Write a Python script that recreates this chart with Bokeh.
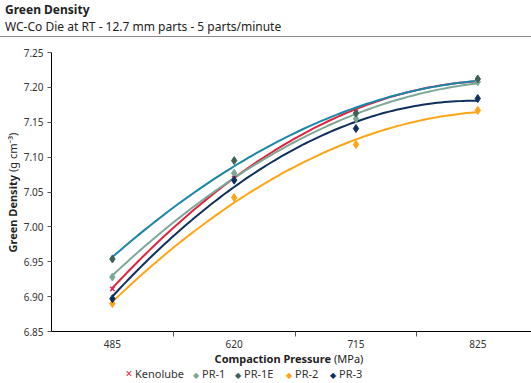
import numpy as np
from bokeh.plotting import figure
from bokeh.layouts import column, row
from bokeh.models import (Range1d, FixedTicker, Div, ColumnDataSource, NumeralTickFormatter)
from bokeh.embed import file_html
from bokeh.resources import INLINE

# ---- data ----
pressures = ["485", "620", "715", "825"]
kenolube = [6.911, 7.074, 7.165, 7.210]
pr1 = [6.928, 7.077, 7.155, 7.208]
pr1e = [6.954, 7.095, 7.163, 7.212]
pr2 = [6.890, 7.042, 7.118, 7.167]
pr3 = [6.897, 7.067, 7.141, 7.184]
y_ticks = [6.85, 6.90, 6.95, 7.00, 7.05, 7.10, 7.15, 7.20, 7.25]

series_names = ["Kenolube", "PR-1", "PR-1E", "PR-2", "PR-3"]
series_values = [kenolube, pr1, pr1e, pr2, pr3]
marker_colors = ["#E2233F", "#7DA898", "#3E6159", "#FFA514", "#0F2F5F"]
line_colors = ["#E2233F", "#7DA898", "#1A86A8", "#FFA514", "#0F2F5F"]
markers = ["x", "diamond", "diamond", "diamond", "diamond"]

FONT = "Noto Sans"
W, H = 531, 383
HEAD = 37          # title block height
YLAB = 20          # width of y-axis title strip
MID = 315          # height of the plot row
XT = 14            # x-axis title strip
LG = H - HEAD - MID - XT

header = Div(text=('<div style="font-weight:bold">Green Density</div>'
                   '<div>WC-Co Die at RT - 12.7 mm parts - 5 parts/minute</div>'),
             width=W, height=HEAD, margin=0,
             styles={"font-family": FONT, "font-size": "12px", "line-height": "16.5px",
                     "color": "#222222", "padding": "2px 0 0 5px", "box-sizing": "border-box",
                     "border-bottom": "1px solid #8a8a8a", "background": "white"})

ylab = Div(text=(
    '<div style="position:absolute;left:0;top:0;width:%dpx;height:14px;display:flex;'
    'transform-origin:0 0;transform:translate(6px,%dpx) rotate(-90deg);'
    'font-family:%s;font-size:11px;line-height:14px;color:#222222;white-space:nowrap">'
    '<span style="display:inline-block;width:177px;text-align:right;font-weight:bold">Green Density</span>'
    '<span style="padding-left:3px">(g cm\u207b\u00b3)</span></div>') % (MID, MID, FONT),
    width=YLAB, height=MID, margin=0, styles={"position": "relative", "background": "white"})

p = figure(width=W - YLAB, height=MID, output_backend="svg", toolbar_location=None,
           x_range=Range1d(0.5, 0.5 + (W - 49) / 122.3), y_range=Range1d(6.85, 7.25),
           min_border_left=49 - YLAB, min_border_right=0, min_border_top=52 - HEAD,
           min_border_bottom=MID - (52 - HEAD) - 279, margin=0)
p.outline_line_color = None
p.grid.visible = False

xs = np.arange(1, len(pressures) + 1)
xfine = np.linspace(1, len(pressures), 100)

# polynomial (order 2) trendlines fitted to each series
for vals, lc in zip(series_values, line_colors):
    coef = np.polyfit(xs, vals, 2)
    p.line(xfine, np.polyval(coef, xfine), line_color=lc, line_width=2)

for vals, mc, mk in zip(series_values, marker_colors, markers):
    src = ColumnDataSource(dict(x=xs, y=vals))
    if mk == "x":
        p.scatter("x", "y", source=src, marker="x", size=6, line_color=mc, line_width=1.5)
    else:
        p.scatter("x", "y", source=src, marker="diamond", size=8, fill_color=mc, line_color=mc)

xa = p.xaxis[0]
xa.ticker = FixedTicker(ticks=list(xs), minor_ticks=[1.5, 2.5, 3.5])
xa.major_label_overrides = {int(i): t for i, t in zip(xs, pressures)}
xa.major_tick_line_color = None
xa.major_tick_out = 0
xa.minor_tick_in = 0
xa.minor_tick_out = 5
xa.minor_tick_line_color = "#555555"
xa.axis_line_color = "black"
xa.major_label_standoff = 3
xa.major_label_text_font = FONT
xa.major_label_text_font_size = "10px"
xa.major_label_text_color = "#333333"

ya = p.yaxis[0]
ya.ticker = FixedTicker(ticks=y_ticks)
ya.formatter = NumeralTickFormatter(format="0.00")
ya.minor_tick_line_color = None
ya.major_tick_in = 0
ya.major_tick_out = 4
ya.major_tick_line_color = "#555555"
ya.axis_line_color = "black"
ya.major_label_standoff = 4
ya.major_label_text_font = FONT
ya.major_label_text_font_size = "10px"
ya.major_label_text_color = "#333333"

xtitle = Div(text=(
    '<span style="position:absolute;right:200px;top:0;font-weight:bold">Compaction Pressure</span>'
    '<span style="position:absolute;left:334px;top:0">(MPa)</span>'),
    width=W, height=XT, margin=0,
    styles={"position": "relative", "font-family": FONT, "font-size": "11px",
            "line-height": "14px", "color": "#222222", "white-space": "nowrap",
            "background": "white"})

# legend: marker key + series name, one per series
key_glyph = {"x": "\u00d7", "diamond": "\u25c6"}
key_size = {"x": "12px", "diamond": "8px"}
legend_x = [125, 192, 234, 285, 329]
parts = []
for name, mc, mk, lx in zip(series_names, marker_colors, markers, legend_x):
    parts.append(
        '<span style="position:absolute;left:%dpx;top:0">'
        '<span style="color:%s;font-size:%s;display:inline-block;width:8px;text-align:center">%s</span>'
        '<span style="padding-left:2px">%s</span></span>' % (lx, mc, key_size[mk], key_glyph[mk], name))
legend = Div(text="".join(parts), width=W, height=LG, margin=0,
             styles={"position": "relative", "font-family": FONT, "font-size": "11px",
                     "line-height": "15px", "color": "#333333", "white-space": "nowrap",
                     "background": "white"})

layout = column(header, row(ylab, p, spacing=0, margin=0), xtitle, legend, spacing=0, margin=0)
open("out.html", "w").write(file_html(layout, INLINE))
